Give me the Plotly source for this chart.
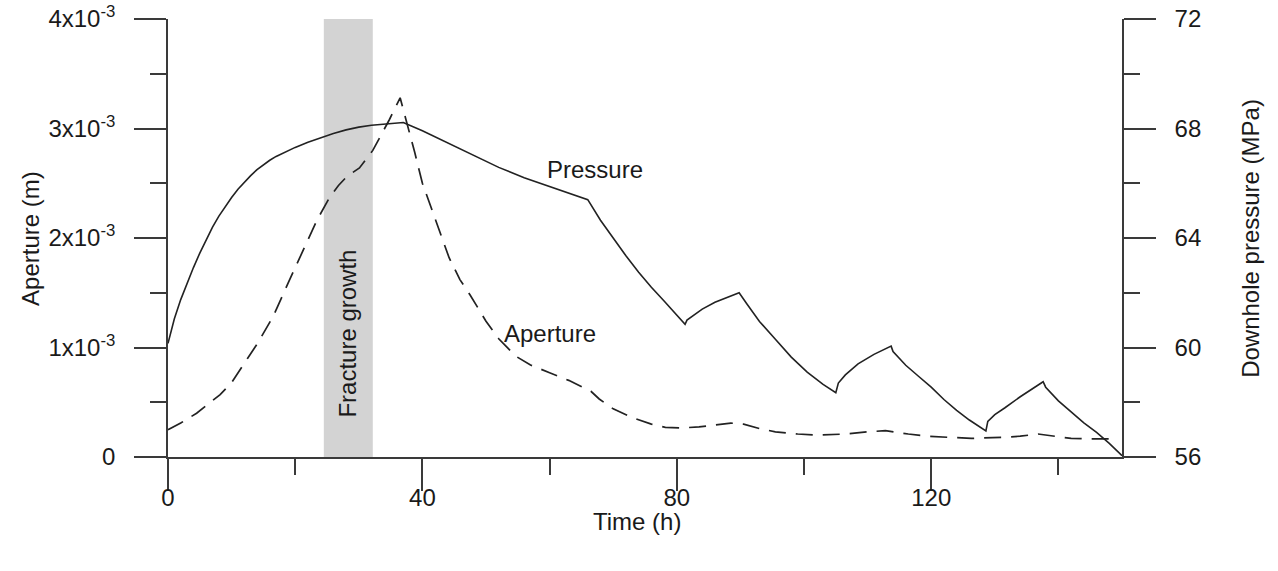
import plotly.graph_objects as go

# ---- data ----
p_time = [0, 0.5, 1, 2, 3, 4, 5, 6, 7, 8, 9, 10, 11, 12, 13, 14, 15, 16, 17, 18, 19, 20,
          22, 24, 26, 28, 30, 32, 34, 36, 37,
          40, 44, 48, 52, 56, 60, 63, 66,
          68, 70, 72, 74, 76, 78, 80, 81.3,
          81.6, 82.5, 84, 86, 88, 89.8,
          91, 93, 95.5, 98, 100.5, 103, 105,
          105.4, 106.5, 108.5, 111, 113.7,
          114, 116, 118, 120, 122, 124, 126, 128.6,
          128.9, 130, 131.6, 134, 137.6,
          138, 140, 142.3, 144, 146, 148, 150]
pressure = [60.15, 60.65, 61.05, 61.75, 62.35, 62.92, 63.45, 63.95, 64.4, 64.8, 65.15, 65.48, 65.78, 66.04, 66.28,
            66.5, 66.68, 66.84, 66.98, 67.1, 67.21, 67.31,
            67.5, 67.67, 67.82, 67.95, 68.05, 68.12, 68.17, 68.21, 68.22,
            67.92, 67.47, 67.0, 66.58, 66.2, 65.88, 65.62, 65.4,
            64.65, 64.0, 63.35, 62.75, 62.2, 61.7, 61.2, 60.85,
            61.0, 61.15, 61.4, 61.65, 61.85, 62.0,
            61.6, 60.95, 60.3, 59.65, 59.1, 58.65, 58.35,
            58.7, 59.0, 59.4, 59.75, 60.05,
            59.85, 59.35, 58.95, 58.55, 58.1, 57.7, 57.35, 56.95,
            57.3, 57.55, 57.8, 58.2, 58.75,
            58.55, 58.05, 57.6, 57.25, 56.9, 56.5, 56.05]

a_time = [0, 2, 4.5, 6, 8.2, 10, 11.3, 12.5, 14.1, 16.5, 18.9, 21.2, 23.4, 25.4, 26.8, 28.1, 30.1, 32.2, 34.8, 36.5,
          37.6, 38.8, 40, 41.6, 42.7, 44.2, 45.9, 47.5, 50, 52, 54.7, 57, 60, 63, 65.1, 66.5, 67.8, 70, 73, 76, 78.2,
          80.8, 83.5, 86, 88.5, 90.5, 93, 95.5, 99, 102.3, 106.5, 110, 112.8, 116.4, 119.5, 122.7, 126.3, 131.6,
          134, 136.8, 139.5, 142, 145, 148]
aperture = [0.25, 0.31, 0.40, 0.47, 0.57, 0.68, 0.79, 0.90, 1.04, 1.28, 1.59, 1.89, 2.16, 2.37, 2.48, 2.56, 2.64, 2.80, 3.08, 3.28,
            3.05, 2.78, 2.50, 2.24, 2.07, 1.82, 1.62, 1.48, 1.24, 1.08, 0.92, 0.84, 0.77, 0.70, 0.64, 0.60, 0.53, 0.44, 0.36, 0.30, 0.27,
            0.265, 0.275, 0.29, 0.31, 0.30, 0.26, 0.23, 0.21, 0.20, 0.21, 0.23, 0.24, 0.21, 0.19, 0.18, 0.17, 0.18,
            0.19, 0.21, 0.19, 0.17, 0.165, 0.165]
aperture_m = [v * 1e-3 for v in aperture]

growth_start, growth_end = 24.5, 32.2
x_ticks = [0, 40, 80, 120]
y_ticks = [0, 1e-3, 2e-3, 3e-3, 4e-3]
y_ticktext = ["0", "1x10<sup>-3</sup>", "2x10<sup>-3</sup>", "3x10<sup>-3</sup>", "4x10<sup>-3</sup>"]
p_ticks = [56, 60, 64, 68, 72]

LINE = "#222222"
AX = "#3a3a3a"
FONT = "Liberation Sans, Arial, sans-serif"

fig = go.Figure()
fig.add_trace(go.Scatter(x=a_time, y=aperture_m, mode="lines",
                         line=dict(color=LINE, width=1.7, dash="17px,10px"),
                         showlegend=False, yaxis="y"))
fig.add_trace(go.Scatter(x=p_time, y=pressure, mode="lines",
                         line=dict(color=LINE, width=1.6),
                         showlegend=False, yaxis="y2"))

fig.add_shape(type="rect", xref="x", yref="y", x0=growth_start, x1=growth_end, y0=0, y1=4e-3,
              fillcolor="#d3d3d3", line=dict(width=0), layer="below")

common = dict(showline=True, linecolor=AX, linewidth=1.6, ticks="outside", tickcolor=AX,
              tickwidth=1.6, ticklen=32, showgrid=False, zeroline=False, automargin=False,
              tickfont=dict(size=24, color="#1a1a1a", family=FONT))

fig.update_layout(
    width=1278, height=571,
    margin=dict(l=168, r=156, t=19, b=114),
    paper_bgcolor="white", plot_bgcolor="white",
    font=dict(family=FONT, size=24, color="#1a1a1a"),
    xaxis=dict(range=[0, 150], tickvals=x_ticks,
               minor=dict(dtick=20, tick0=0, ticks="outside", ticklen=16, tickcolor=AX, tickwidth=1.6),
               ticklabelstandoff=-14, **common),
    yaxis=dict(range=[0, 4e-3], tickvals=y_ticks, ticktext=y_ticktext,
               minor=dict(dtick=0.5e-3, tick0=0, ticks="outside", ticklen=16, tickcolor=AX, tickwidth=1.6),
               ticklabelstandoff=14, **common),
    yaxis2=dict(range=[56, 72], tickvals=p_ticks, overlaying="y", side="right",
                minor=dict(dtick=2, tick0=56, ticks="outside", ticklen=16, tickcolor=AX, tickwidth=1.6),
                ticklabelstandoff=14, **common),
)

ann = [
    dict(text="Pressure", x=67.1, y=66.5, xref="x", yref="y2", showarrow=False,
         xanchor="center", yanchor="middle"),
    dict(text="Aperture", x=60.1, y=1.13e-3, xref="x", yref="y", showarrow=False,
         xanchor="center", yanchor="middle"),
    dict(text="Fracture growth", x=28.2, y=1.13e-3, xref="x", yref="y", showarrow=False,
         textangle=-90, xanchor="center", yanchor="middle"),
    dict(text="Aperture (m)", x=-0.1447, y=0.5, xref="paper", yref="paper", showarrow=False,
         textangle=-90, xanchor="center", yanchor="middle"),
    dict(text="Downhole pressure (MPa)", x=1.134, y=0.5, xref="paper", yref="paper", showarrow=False,
         textangle=-90, xanchor="center", yanchor="middle"),
    dict(text="Time (h)", x=0.4916, y=-0.148, xref="paper", yref="paper", showarrow=False,
         xanchor="center", yanchor="middle"),
]
for a in ann:
    a["font"] = dict(size=24, color="#1a1a1a", family=FONT)
fig.update_layout(annotations=ann)

fig.write_html("out.html")
